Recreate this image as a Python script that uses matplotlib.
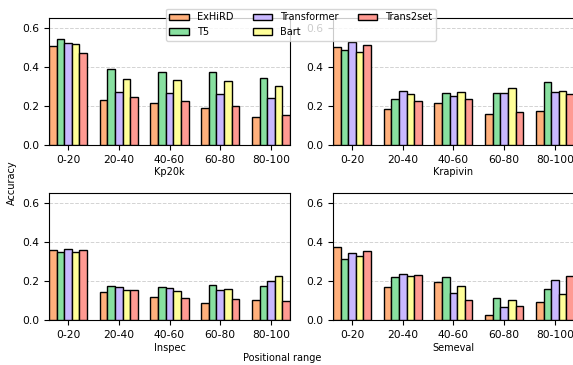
import numpy as np
import matplotlib
matplotlib.use("Agg")
import matplotlib.pyplot as plt

# données
ranges = ["0-20", "20-40", "40-60", "60-80", "80-100"]
models = ["ExHiRD", "T5", "Transformer", "Bart", "Trans2set"]
colors = ["#ffb07c", "#88e0a0", "#c9b8ff", "#ffff99", "#ff9a92"]

kp20k = [
    [0.507, 0.230, 0.216, 0.187, 0.143],
    [0.544, 0.391, 0.374, 0.374, 0.340],
    [0.519, 0.269, 0.265, 0.262, 0.240],
    [0.515, 0.337, 0.333, 0.325, 0.303],
    [0.471, 0.243, 0.224, 0.199, 0.155],
]
krapivin = [
    [0.500, 0.184, 0.214, 0.156, 0.173],
    [0.488, 0.233, 0.265, 0.265, 0.323],
    [0.525, 0.277, 0.250, 0.265, 0.272],
    [0.474, 0.262, 0.269, 0.289, 0.277],
    [0.512, 0.224, 0.233, 0.168, 0.262],
]
inspec = [
    [0.361, 0.144, 0.120, 0.087, 0.103],
    [0.350, 0.174, 0.168, 0.181, 0.174],
    [0.362, 0.168, 0.164, 0.152, 0.200],
    [0.350, 0.152, 0.149, 0.159, 0.226],
    [0.357, 0.152, 0.111, 0.108, 0.096],
]
semeval = [
    [0.373, 0.168, 0.195, 0.024, 0.092],
    [0.313, 0.219, 0.219, 0.111, 0.159],
    [0.345, 0.238, 0.138, 0.068, 0.205],
    [0.328, 0.224, 0.174, 0.103, 0.133],
    [0.354, 0.231, 0.103, 0.070, 0.226],
]

datasets = ["Kp20k", "Krapivin", "Inspec", "Semeval"]
all_data = [kp20k, krapivin, inspec, semeval]

fig, axes = plt.subplots(2, 2, figsize=(5.73, 3.65), dpi=100)
plt.subplots_adjust(left=0.0855, right=1.0017, top=0.951, bottom=0.123,
                    wspace=0.178, hspace=0.378)

x = np.arange(len(ranges))
w = 0.15

for ax, name, data in zip(axes.flat, datasets, all_data):
    for i, (m, c) in enumerate(zip(models, colors)):
        ax.bar(x + (i - 2) * w, data[i], w, color=c, edgecolor="black",
               linewidth=1.0, label=m, zorder=3)
    ax.set_xticks(x)
    ax.set_xticklabels(ranges, fontsize=7.7)
    ax.tick_params(axis="y", labelsize=7.7)
    ax.set_xlim(-0.375, 4.375)
    ax.set_ylim(0, 0.65)
    ax.set_yticks([0.0, 0.2, 0.4, 0.6])
    ax.set_xlabel(name, fontsize=7, labelpad=2)
    ax.grid(axis="y", linestyle="--", color="lightgray", linewidth=0.7, zorder=0)

handles, labels = axes[0, 0].get_legend_handles_labels()
fig.legend(handles, labels, loc="upper center", bbox_to_anchor=(0.525, 0.99),
           ncol=3, fontsize=7, columnspacing=2.0)

fig.text(0.021, 0.5, "Accuracy", rotation=90, va="center", ha="center", fontsize=7)
fig.text(0.492, 0.02, "Positional range", va="center", ha="center", fontsize=7)

plt.savefig("out.png", dpi=100)
